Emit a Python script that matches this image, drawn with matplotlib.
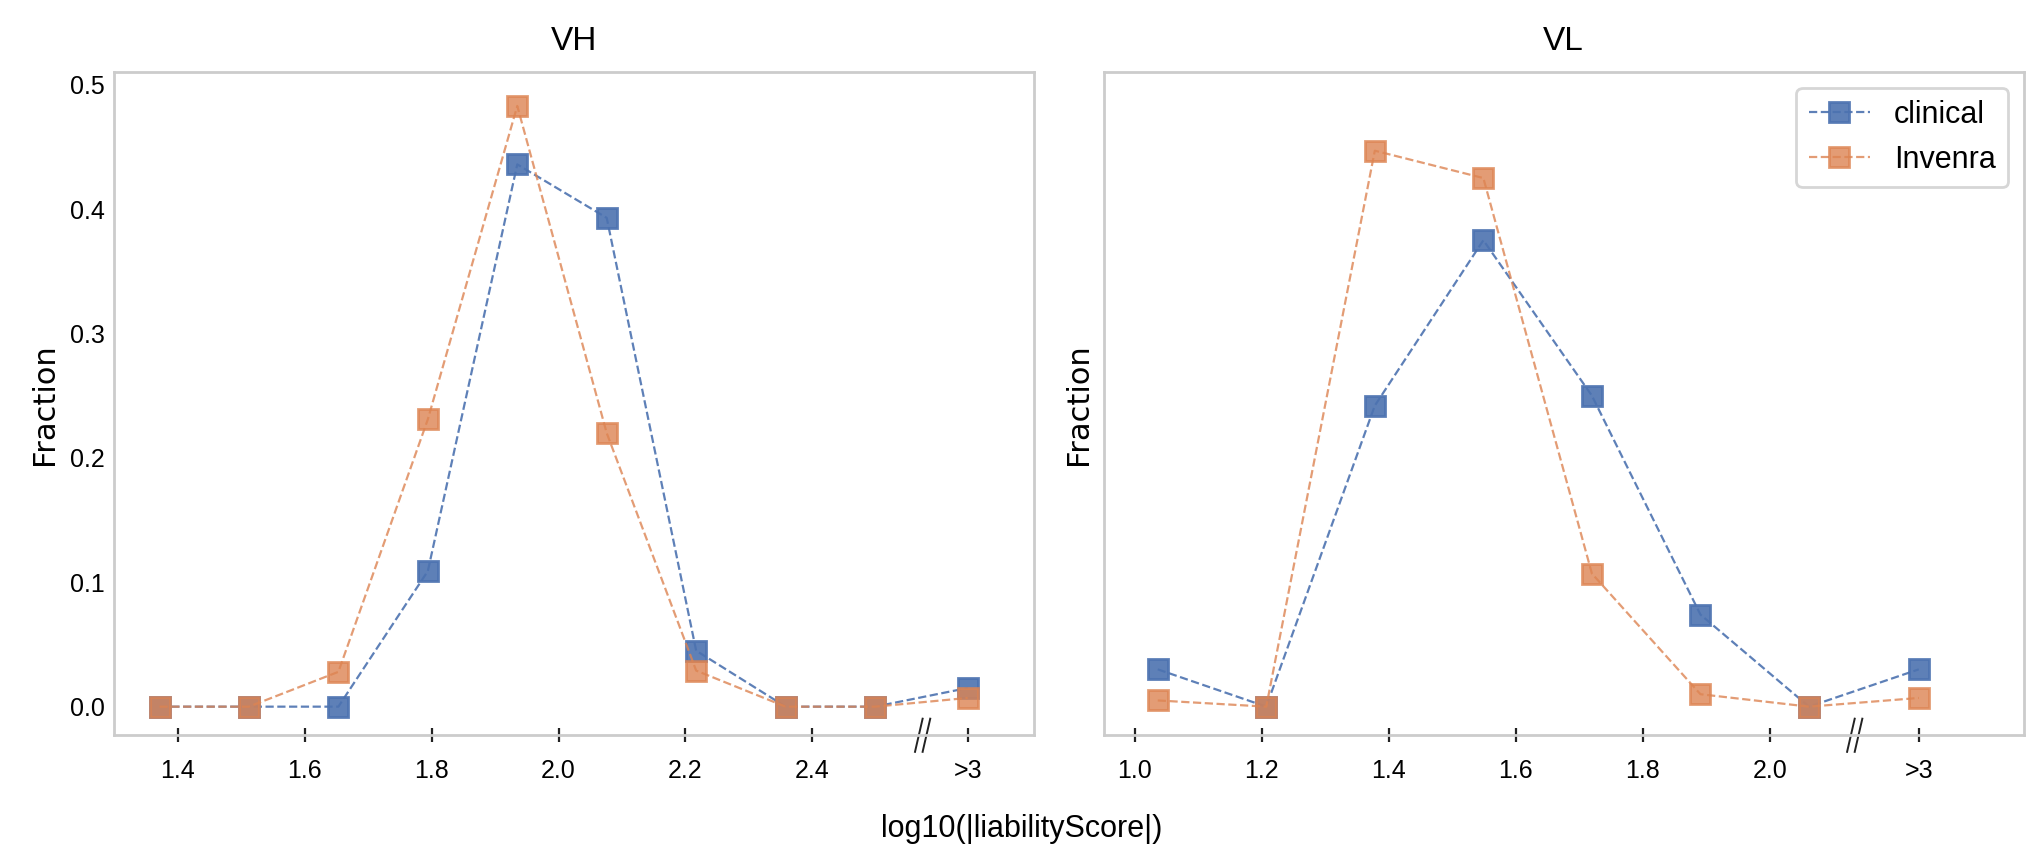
import matplotlib.pyplot as plt
import matplotlib.transforms as mtransforms

plt.rcParams['font.family'] = ['Liberation Sans', 'DejaVu Sans']

# VH panel
vh_x = [1.371, 1.512, 1.653, 1.794, 1.935, 2.076, 2.217, 2.358, 2.499, 2.645]
vh_clinical = [0.0, 0.0, 0.0, 0.109, 0.436, 0.393, 0.045, 0.0, 0.0, 0.015]
vh_invenra = [0.0, 0.0, 0.028, 0.231, 0.483, 0.220, 0.029, 0.0, 0.0, 0.007]
vh_ticks = [1.4, 1.6, 1.8, 2.0, 2.2, 2.4, 2.645]
vh_labels = ["1.4", "1.6", "1.8", "2.0", "2.2", "2.4", ">3"]

# VL panel
vl_x = [1.036, 1.207, 1.378, 1.549, 1.720, 1.891, 2.062, 2.235]
vl_clinical = [0.030, 0.0, 0.242, 0.375, 0.250, 0.074, 0.0, 0.030]
vl_invenra = [0.005, 0.0, 0.447, 0.425, 0.107, 0.010, 0.0, 0.007]
vl_ticks = [1.0, 1.2, 1.4, 1.6, 1.8, 2.0, 2.235]
vl_labels = ["1.0", "1.2", "1.4", "1.6", "1.8", "2.0", ">3"]

blue = "#4C72B0"
orange = "#DD8452"

fig = plt.figure(figsize=(10.22, 4.255), dpi=200)
ax1 = fig.add_axes([0.056, 0.136, 0.450, 0.779])
ax2 = fig.add_axes([0.540, 0.136, 0.450, 0.779], sharey=ax1)

panels = [
    (ax1, "VH", vh_x, vh_clinical, vh_invenra, vh_ticks, vh_labels, (1.30, 2.75), 2.58),
    (ax2, "VL", vl_x, vl_clinical, vl_invenra, vl_ticks, vl_labels, (0.951, 2.40), 2.14),
]

for ax, title, x, cl, inv, ticks, labels, xlim, brk in panels:
    ax.plot(x, cl, "--s", color=blue, lw=0.8, ms=7.5, alpha=0.9,
            markeredgecolor=blue, label="clinical")
    ax.plot(x, inv, "--s", color=orange, lw=0.8, ms=7.5, alpha=0.8,
            markeredgecolor=orange, label="Invenra")
    ax.set_xlim(*xlim)
    ax.set_ylim(-0.023, 0.510)
    ax.set_xticks(ticks)
    ax.set_xticklabels(labels)
    ax.set_title(title, fontsize=12, pad=8)
    ax.set_ylabel("Fraction", fontsize=11, family="DejaVu Sans")
    for s in ax.spines.values():
        s.set_color("#cccccc")
        s.set_linewidth(1.0)
    ax.tick_params(axis="x", direction="inout", length=5, width=0.8,
                   color="#222222", labelsize=9, pad=6)
    ax.tick_params(axis="y", length=0, labelsize=9)
    # axis break mark
    trans = mtransforms.blended_transform_factory(ax.transData, ax.transAxes)
    for dx in (-0.012, 0.0):
        ax.plot([brk + dx - 0.006, brk + dx + 0.006], [-0.025, 0.025],
                color="#222222", lw=0.7, transform=trans, clip_on=False)

ax1.set_yticks([0.0, 0.1, 0.2, 0.3, 0.4, 0.5])
ax2.tick_params(axis="y", labelleft=False)
leg = ax2.legend(loc="upper right", fontsize=11, frameon=True, fancybox=True)
leg.get_frame().set_edgecolor("#cccccc")

fig.text(0.5, 0.026, "log10(|liabilityScore|)", ha="center", va="center", fontsize=11)

fig.savefig("out.png", dpi=200)
